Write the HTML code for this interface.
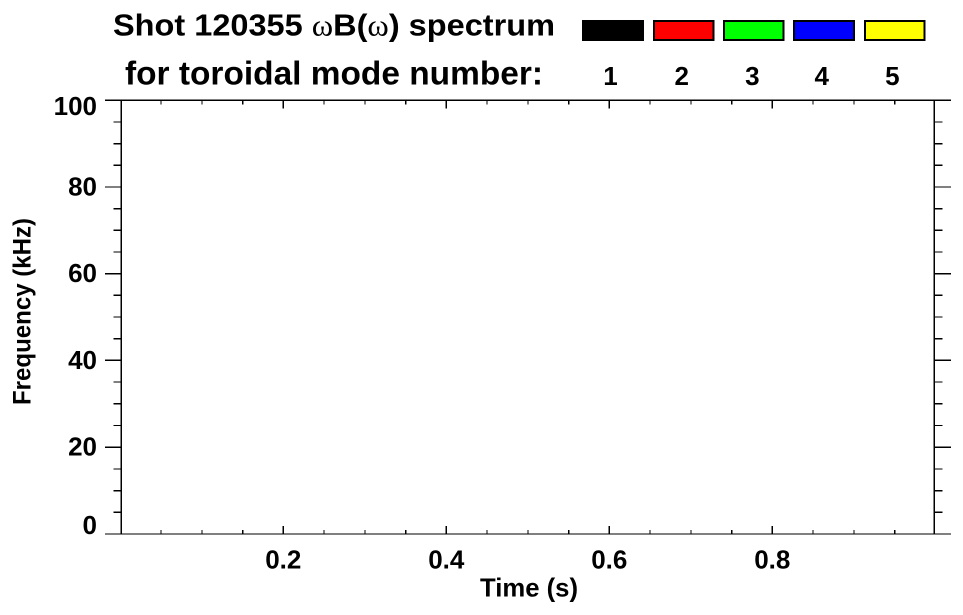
<!DOCTYPE html>
<html>
<head>
<meta charset="utf-8">
<style>
html,body{margin:0;padding:0;background:#fff;}
svg{display:block;}
text{font-family:"Liberation Sans",Arial,sans-serif;font-weight:bold;fill:#000;}
</style>
</head>
<body>
<svg width="963" height="615" viewBox="0 0 963 615" xmlns="http://www.w3.org/2000/svg">
<!-- Title -->
<text x="113" y="35.5" font-size="31" textLength="442" lengthAdjust="spacingAndGlyphs">Shot 120355 <tspan font-family="Liberation Serif" font-weight="normal">ω</tspan>B(<tspan font-family="Liberation Serif" font-weight="normal">ω</tspan>) spectrum</text>
<text x="125" y="84.5" font-size="33" textLength="418" lengthAdjust="spacingAndGlyphs">for toroidal mode number:</text>

<!-- Legend boxes -->
<g stroke="#000" stroke-width="2">
<rect x="583" y="21" width="60" height="19" fill="#000"/>
<rect x="654" y="21" width="59.5" height="19" fill="#ff0000"/>
<rect x="724" y="21" width="59.5" height="19" fill="#00ff00"/>
<rect x="794" y="21" width="60" height="19" fill="#0000ff"/>
<rect x="865" y="21" width="59.5" height="19" fill="#ffff00"/>
</g>
<g font-size="26" text-anchor="middle">
<text x="610.5" y="85">1</text>
<text x="681.7" y="85">2</text>
<text x="752.3" y="85">3</text>
<text x="821.7" y="85">4</text>
<text x="892.3" y="85">5</text>
</g>

<!-- Axes box -->
<g stroke="#000" stroke-width="1.4" fill="none" shape-rendering="crispEdges">
<line x1="121.3" y1="100.3" x2="121.3" y2="534"/>
<line x1="934.3" y1="100.3" x2="934.3" y2="534"/>
<line x1="121.3" y1="100.3" x2="934.3" y2="100.3"/>
<line x1="121.3" y1="534" x2="934.3" y2="534"/>

<!-- Y major ticks (outward) -->
<path d="
M105 100.3 H121.3 M105 187 H121.3 M105 273.6 H121.3 M105 360.4 H121.3 M105 447.2 H121.3 M105 534 H121.3
M934.3 100.3 H951 M934.3 187 H951 M934.3 273.6 H951 M934.3 360.4 H951 M934.3 447.2 H951 M934.3 534 H951
"/>
<!-- Y minor ticks -->
<path d="
M113.3 122 H121.3 M113.3 143.7 H121.3 M113.3 165.3 H121.3
M113.3 208.7 H121.3 M113.3 230.4 H121.3 M113.3 252 H121.3
M113.3 295.3 H121.3 M113.3 317 H121.3 M113.3 338.7 H121.3
M113.3 382 H121.3 M113.3 403.7 H121.3 M113.3 425.5 H121.3
M113.3 469 H121.3 M113.3 490.7 H121.3 M113.3 512.3 H121.3
M934.3 122 H942.7 M934.3 143.7 H942.7 M934.3 165.3 H942.7
M934.3 208.7 H942.7 M934.3 230.4 H942.7 M934.3 252 H942.7
M934.3 295.3 H942.7 M934.3 317 H942.7 M934.3 338.7 H942.7
M934.3 382 H942.7 M934.3 403.7 H942.7 M934.3 425.5 H942.7
M934.3 469 H942.7 M934.3 490.7 H942.7 M934.3 512.3 H942.7
"/>
<!-- X major ticks (inward) -->
<path d="
M283.3 534 V526 M446.3 534 V526 M609.3 534 V526 M772.3 534 V526
M283.3 100.3 V108.3 M446.3 100.3 V108.3 M609.3 100.3 V108.3 M772.3 100.3 V108.3
"/>
<!-- X minor ticks -->
<path d="
M161 534 V530 M202 534 V530 M242.6 534 V530
M324 534 V530 M365 534 V530 M405.6 534 V530
M487 534 V530 M528 534 V530 M568.6 534 V530
M650 534 V530 M691 534 V530 M731.6 534 V530
M813 534 V530 M854 534 V530 M894.6 534 V530
M161 100.3 V104.3 M202 100.3 V104.3 M242.6 100.3 V104.3
M324 100.3 V104.3 M365 100.3 V104.3 M405.6 100.3 V104.3
M487 100.3 V104.3 M528 100.3 V104.3 M568.6 100.3 V104.3
M650 100.3 V104.3 M691 100.3 V104.3 M731.6 100.3 V104.3
M813 100.3 V104.3 M854 100.3 V104.3 M894.6 100.3 V104.3
"/>
</g>

<!-- Y tick labels -->
<g font-size="26" text-anchor="end">
<text x="97" y="115">100</text>
<text x="97" y="195.5">80</text>
<text x="97" y="282">60</text>
<text x="97" y="369">40</text>
<text x="97" y="455.5">20</text>
<text x="97" y="534">0</text>
</g>

<!-- X tick labels -->
<g font-size="26" text-anchor="middle">
<text x="283.3" y="568.3">0.2</text>
<text x="446.3" y="568.3">0.4</text>
<text x="609.3" y="568.3">0.6</text>
<text x="772.3" y="568.3">0.8</text>
</g>

<!-- Axis titles -->
<text x="480" y="596.7" font-size="26" textLength="98" lengthAdjust="spacingAndGlyphs">Time (s)</text>
<text transform="translate(30.5,405) rotate(-90)" x="0" y="0" font-size="25" textLength="187" lengthAdjust="spacingAndGlyphs">Frequency (kHz)</text>
</svg>
</body>
</html>
